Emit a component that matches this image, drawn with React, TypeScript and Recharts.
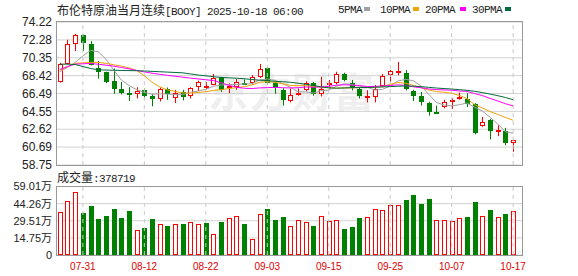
import React from 'react';
import {
  ComposedChart,
  Bar,
  Line,
  XAxis,
  YAxis,
  CartesianGrid,
  ReferenceLine,
} from 'recharts';

const dates = [
  '07-28', '07-29', '07-30', '07-31', '08-01', '08-04', '08-05', '08-06', '08-07', '08-08',
  '08-11', '08-12', '08-13', '08-14', '08-15', '08-18', '08-19', '08-20', '08-21', '08-22',
  '08-25', '08-26', '08-27', '08-28', '08-29', '09-01', '09-02', '09-03', '09-04', '09-05',
  '09-08', '09-09', '09-10', '09-11', '09-12', '09-15', '09-16', '09-17', '09-18', '09-19',
  '09-22', '09-23', '09-24', '09-25', '09-26', '09-29', '09-30', '10-01', '10-02', '10-03',
  '10-06', '10-07', '10-08', '10-09', '10-10', '10-13', '10-14', '10-15', '10-16', '10-17',
];

const opens = [
  67.77, 69.69, 71.87, 72.83, 71.87, 69.19, 68.8, 67.84, 66.99, 66.54,
  66.45, 66.88, 66.24, 65.88, 66.95, 65.95, 66.66, 66.17, 67.16, 67.26,
  67.45, 68.23, 67.2, 67.23, 67.63, 67.59, 68.3, 69.23, 67.59, 66.91,
  65.67, 66.38, 66.81, 67.66, 66.45, 67.55, 67.59, 68.59, 67.59, 67.02,
  66.08, 66.1, 67.31, 68.45, 68.82, 68.66, 66.77, 66.24, 65.45, 64.5,
  65.02, 65.67, 66.02, 65.88, 65.31, 62.95, 63.6, 62.45, 62.42, 61.14,
];
const highs = [
  69.8, 72.3, 72.94, 72.87, 72.15, 70.0, 68.84, 69.19, 67.73, 67.16,
  67.16, 67.02, 66.45, 67.13, 67.13, 66.88, 66.88, 67.16, 67.88, 67.73,
  68.59, 68.3, 67.59, 68.05, 68.0, 68.48, 69.69, 69.3, 67.73, 67.06,
  67.02, 67.02, 67.8, 67.73, 68.3, 67.95, 68.84, 68.73, 67.95, 67.16,
  66.84, 67.41, 68.59, 69.02, 69.91, 69.02, 66.88, 66.66, 65.59, 65.17,
  65.81, 65.95, 66.59, 66.52, 65.45, 63.95, 63.74, 63.03, 62.77, 61.46,
];
const lows = [
  67.66, 69.62, 71.08, 71.08, 69.52, 68.09, 67.59, 66.45, 66.38, 65.67,
  65.95, 66.02, 65.1, 65.63, 65.81, 65.45, 65.74, 65.95, 66.74, 66.95,
  67.38, 66.66, 66.52, 66.88, 67.45, 67.45, 68.16, 67.45, 66.45, 65.17,
  65.52, 66.24, 66.74, 66.24, 66.17, 67.02, 67.45, 67.8, 66.81, 65.95,
  65.52, 65.52, 67.16, 67.73, 68.45, 66.81, 65.67, 65.17, 64.09, 64.38,
  64.88, 64.81, 65.81, 65.02, 62.06, 62.88, 61.52, 61.88, 60.89, 60.18,
];
const closes = [
  69.69, 71.87, 72.83, 71.94, 69.62, 68.84, 67.77, 67.02, 66.52, 66.5,
  66.74, 66.17, 65.88, 66.95, 66.38, 66.52, 66.09, 67.06, 67.73, 67.3,
  68.13, 66.81, 67.35, 67.73, 67.6, 68.23, 69.09, 67.59, 67.09, 65.74,
  66.34, 66.52, 67.59, 66.45, 67.02, 67.66, 68.59, 67.95, 67.06, 66.17,
  66.2, 66.95, 68.38, 68.87, 68.9, 66.95, 66.24, 65.52, 64.45, 64.45,
  65.52, 65.79, 66.13, 65.38, 62.17, 63.45, 62.42, 62.52, 61.1, 61.42,
];
const volumes = [
  374000, 469000, 547000, 360000, 420000, 308000, 334000, 394000, 317000, 377000,
  219000, 230000, 308000, 271000, 248000, 271000, 265000, 288000, 265000, 273000,
  184000, 282000, 322000, 334000, 265000, 141000, 351000, 394000, 299000, 325000,
  253000, 305000, 280000, 248000, 340000, 290000, 305000, 227000, 240000, 322000,
  330000, 400000, 390000, 430000, 429000, 470000, 515000, 440000, 480000, 300000,
  300000, 290000, 320000, 330000, 460000, 340000, 385000, 330000, 350000, 378719,
];

const ma5 = [
  68.84, 69.3, 69.85, 70.55, 71.15, 71.0, 70.2, 69.05, 67.95, 67.35,
  66.9, 66.6, 66.4, 66.45, 66.42, 66.38, 66.36, 66.6, 66.76, 66.94,
  67.26, 67.41, 67.46, 67.46, 67.52, 67.54, 67.95, 68.05, 67.92, 67.55,
  67.17, 66.66, 66.66, 66.53, 66.78, 66.85, 67.26, 67.53, 67.46, 67.29,
  67.17, 66.85, 66.93, 67.3, 67.84, 68.01, 67.87, 67.3, 66.41, 65.52,
  65.24, 65.15, 65.27, 65.46, 65.0, 64.59, 63.91, 63.19, 62.33, 62.18,
];
const ma10 = [
  69.0, 69.4, 69.75, 69.8, 69.85, 69.85, 69.75, 69.6, 69.45, 69.26,
  68.97, 68.4, 67.7, 67.2, 66.88, 66.7, 66.55, 66.52, 66.6, 66.68,
  66.82, 66.89, 67.03, 67.11, 67.23, 67.4, 67.7, 67.76, 67.69, 67.54,
  67.36, 67.33, 67.35, 67.22, 67.17, 67.11, 67.06, 67.1, 67.09, 67.14,
  67.12, 67.16, 67.24, 67.49, 67.67, 67.6, 67.37, 67.12, 66.86, 66.69,
  66.62, 66.51, 66.28, 65.93, 65.26, 64.91, 64.53, 64.23, 63.89, 63.59,
];
const ma20 = [
  69.09, 69.4, 69.66, 69.7, 69.73, 69.65, 69.55, 69.45, 69.3, 69.15,
  68.98, 68.82, 68.68, 68.56, 68.45, 68.35, 68.25, 68.15, 68.06, 67.97,
  67.89, 67.64, 67.37, 67.16, 67.05, 67.02, 67.09, 67.12, 67.15, 67.11,
  67.09, 67.11, 67.19, 67.17, 67.2, 67.26, 67.38, 67.43, 67.39, 67.34,
  67.24, 67.25, 67.3, 67.35, 67.42, 67.36, 67.21, 67.11, 66.98, 66.91,
  66.87, 66.84, 66.76, 66.71, 66.47, 66.26, 65.95, 65.68, 65.38, 65.14,
];
const ma30 = [
  69.66, 69.66, 69.62, 69.4, 69.19, 69.05, 69.02, 69.0, 68.98, 68.96,
  68.95, 68.92, 68.88, 68.84, 68.8, 68.76, 68.72, 68.6, 68.48, 68.4,
  68.3, 68.22, 68.18, 68.14, 68.08, 68.0, 67.92, 67.88, 67.8, 67.76,
  67.7, 67.6, 67.48, 67.36, 67.2, 67.1, 67.06, 67.08, 67.12, 67.13,
  67.13, 67.16, 67.2, 67.23, 67.27, 67.3, 67.28, 67.23, 67.15, 67.08,
  67.02, 66.97, 66.9, 66.83, 66.72, 66.58, 66.42, 66.25, 66.05, 65.81,
];

const priceTicks = [58.75, 60.69, 62.62, 64.55, 66.49, 68.42, 70.35, 72.28, 74.22];
const volTicks = [0, 147500, 295100, 442600, 590100];
const volTickLabels = ['0', '14.75万', '29.51万', '44.26万', '59.01万'];
const labelDates = ['07-31', '08-12', '08-22', '09-03', '09-15', '09-25', '10-07', '10-17'];

const RED = '#ff0000';
const GREEN = '#008000';
const SANS = '"Liberation Sans", Arial, "Noto Sans CJK SC", sans-serif';
const MONO = '"Liberation Mono", monospace';
const CJK = '"Noto Sans CJK SC", sans-serif';

const data = dates.map((d, i) => ({
  date: d,
  range: [lows[i], highs[i]],
  open: opens[i],
  close: closes[i],
  high: highs[i],
  low: lows[i],
  vol: volumes[i],
  volUp: closes[i] >= (i > 0 ? closes[i - 1] : opens[i]),
  ma5: ma5[i],
  ma10: ma10[i],
  ma20: ma20[i],
  ma30: ma30[i],
}));

function Candle(props: any) {
  const { x, y, width, height, payload } = props;
  if (x == null || !payload) return null;
  const top = Math.min(y, y + height);
  const bot = Math.max(y, y + height);
  const span = payload.high - payload.low || 1;
  const toY = (p: number) => top + ((payload.high - p) / span) * (bot - top);
  const cx = Math.round(x + width / 2);
  const up = payload.close >= payload.open;
  const color = up ? RED : GREEN;
  const yO = toY(payload.open);
  const yC = toY(payload.close);
  const bTop = Math.round(Math.min(yO, yC));
  const bBot = Math.max(Math.round(Math.max(yO, yC)), bTop + 1);
  const thin = bBot - bTop <= 2;
  return (
    <g>
      <line x1={cx + 0.5} x2={cx + 0.5} y1={top} y2={bTop} stroke={color} />
      <line x1={cx + 0.5} x2={cx + 0.5} y1={bBot} y2={bot} stroke={color} />
      {thin ? (
        <rect x={cx - 2} y={bTop} width={5} height={2} fill={color} />
      ) : up ? (
        <rect x={cx - 1.5} y={bTop + 0.5} width={4} height={bBot - bTop - 1} fill="#fff" stroke={color} />
      ) : (
        <rect x={cx - 2} y={bTop} width={5} height={bBot - bTop} fill={color} />
      )}
    </g>
  );
}

function VolBar(props: any) {
  const { x, y, width, height, payload } = props;
  if (x == null || !payload) return null;
  const cx = Math.round(x + width / 2);
  const top = Math.round(Math.min(y, y + height));
  const bot = Math.round(Math.max(y, y + height));
  if (payload.volUp) {
    return <rect x={cx - 1.5} y={top + 0.5} width={4} height={Math.max(bot - top - 1, 0)} fill="#fff" stroke={RED} />;
  }
  return <rect x={cx - 2} y={top} width={5} height={bot - top} fill={GREEN} />;
}

function DateTick(props: any) {
  const { x, payload } = props;
  if (!labelDates.includes(payload.value)) return null;
  return (
    <text x={x} y={90} textAnchor="middle" dominantBaseline="central" fill="#e00000" fontSize={10} fontFamily={SANS}>
      {payload.value}
    </text>
  );
}

const legend = [
  { name: '5PMA', color: '#a0a0a0', left: 338, box: 364 },
  { name: '10PMA', color: '#f0a30a', left: 380, box: 413 },
  { name: '20PMA', color: '#ff00ff', left: 425, box: 460 },
  { name: '30PMA', color: '#006b3c', left: 472, box: 505 },
];

export default function App() {
  return (
    <div
      style={{
        position: 'absolute',
        left: 0,
        top: 0,
        width: 578,
        height: 276,
        background: '#fff',
        overflow: 'hidden',
        fontFamily: SANS,
      }}
    >
      {/* 水印 */}
      <div
        style={{
          position: 'absolute',
          left: 208,
          top: 66,
          fontSize: 40,
          fontWeight: 'bold',
          fontFamily: CJK,
          color: '#efefef',
          letterSpacing: 2,
          lineHeight: '48px',
        }}
      >
        东方财富
      </div>

      <div style={{ position: 'absolute', left: 0, top: 0 }}>
        <ComposedChart width={578} height={176} data={data} margin={{ top: 22, right: 56, bottom: 11, left: 0 }}>
          <CartesianGrid vertical={false} stroke="#d2d2d2" />
          <XAxis dataKey="date" hide padding={{ left: 0, right: 5 }} />
          <YAxis
            width={56}
            domain={[58.75, 74.22]}
            allowDataOverflow
            ticks={priceTicks}
            interval={0}
            tickFormatter={(v: number) => v.toFixed(2)}
            axisLine={false}
            tickLine={false}
            tickSize={0}
            tickMargin={4}
            tick={{ fontSize: 12, fill: '#222', fontFamily: SANS }}
          />
          {labelDates.map((d) => (
            <ReferenceLine key={d} x={d} stroke="#c8c8c8" strokeDasharray="4 4" />
          ))}
          <Bar dataKey="range" shape={(p: any) => <Candle {...p} />} isAnimationActive={false} />
          <Line dataKey="ma5" stroke="#a0a0a0" dot={false} strokeWidth={1} isAnimationActive={false} />
          <Line dataKey="ma10" stroke="#f0a30a" dot={false} strokeWidth={1} isAnimationActive={false} />
          <Line dataKey="ma20" stroke="#ff00ff" dot={false} strokeWidth={1} isAnimationActive={false} />
          <Line dataKey="ma30" stroke="#006b3c" dot={false} strokeWidth={1} isAnimationActive={false} />
        </ComposedChart>
      </div>

      <div style={{ position: 'absolute', left: 0, top: 176 }}>
        <ComposedChart width={578} height={100} data={data} margin={{ top: 10.5, right: 56, bottom: 0, left: 0 }}>
          <CartesianGrid vertical={false} stroke="#d2d2d2" />
          <XAxis
            dataKey="date"
            height={21}
            padding={{ left: 0, right: 5 }}
            axisLine={false}
            tickLine={false}
            interval={0}
            tick={(p: any) => <DateTick {...p} />}
          />
          <YAxis
            width={56}
            domain={[0, 590100]}
            allowDataOverflow
            ticks={volTicks}
            interval={0}
            tickFormatter={(v: number) => volTickLabels[volTicks.indexOf(v)] ?? ''}
            axisLine={false}
            tickLine={false}
            tickSize={0}
            tickMargin={4}
            tick={{ fontSize: 11, fill: '#222', fontFamily: SANS }}
          />
          {labelDates.map((d) => (
            <ReferenceLine key={d} x={d} stroke="#c8c8c8" strokeDasharray="4 4" />
          ))}
          <Bar dataKey="vol" shape={(p: any) => <VolBar {...p} />} isAnimationActive={false} />
        </ComposedChart>
      </div>

      {/* 边框 */}
      <div
        style={{
          position: 'absolute',
          left: 56,
          top: 21,
          width: 467,
          height: 145,
          border: '1px solid #999',
          boxSizing: 'border-box',
        }}
      />
      <div
        style={{
          position: 'absolute',
          left: 56,
          top: 186,
          width: 467,
          height: 70,
          border: '1px solid #999',
          boxSizing: 'border-box',
        }}
      />

      <div style={{ position: 'absolute', left: 57, top: 2, fontSize: 12, lineHeight: '16px', color: '#222', whiteSpace: 'nowrap' }}>
        <span style={{ fontFamily: CJK }}>布伦特原油当月连续</span>
        <span style={{ fontFamily: MONO, fontSize: 11, letterSpacing: -0.6 }}>[BOOY] 2025-10-18 06:00</span>
      </div>

      {legend.map((l) => (
        <React.Fragment key={l.name}>
          <div
            style={{
              position: 'absolute',
              left: l.left,
              top: 2,
              fontFamily: MONO,
              fontSize: 11,
              letterSpacing: -0.6,
              lineHeight: '16px',
              color: '#222',
            }}
          >
            {l.name}
          </div>
          <div style={{ position: 'absolute', left: l.box, top: 7, width: 6, height: 4, background: l.color }} />
        </React.Fragment>
      ))}

      <div style={{ position: 'absolute', left: 57, top: 169, fontSize: 12, lineHeight: '16px', color: '#222', whiteSpace: 'nowrap' }}>
        <span style={{ fontFamily: CJK }}>成交量</span>
        <span style={{ fontFamily: MONO, fontSize: 11, letterSpacing: -0.6 }}>:{volumes[volumes.length - 1]}</span>
      </div>
    </div>
  );
}
